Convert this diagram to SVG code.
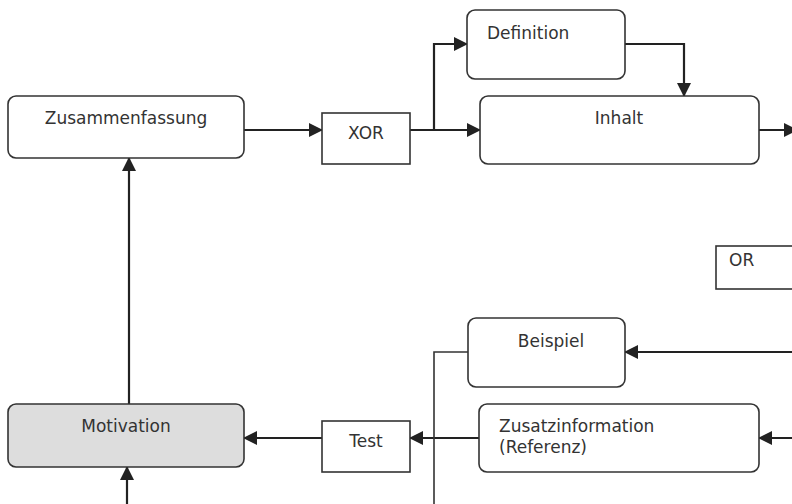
<svg xmlns="http://www.w3.org/2000/svg" width="792" height="504" viewBox="0 0 792 504">
<defs>
<marker id="ah" markerUnits="userSpaceOnUse" markerWidth="14" markerHeight="14" viewBox="0 0 14 14" refX="13" refY="7" orient="auto">
<path d="M0,0 L14,7 L0,14 Z" fill="#222"/>
</marker>
</defs>
<style>
.box{fill:#fff;stroke:#333;stroke-width:1.6}
.gray{fill:#dddddd}
.t{font-family:"DejaVu Sans",Verdana,sans-serif;font-size:17px;fill:#333}
.c{fill:none;stroke:#222;stroke-width:2.2}
.thin{fill:none;stroke:#333;stroke-width:1.6}
</style>
<rect width="792" height="504" fill="#fff"/>
<g id="connectors">
<path class="c" d="M244,130 H322" marker-end="url(#ah)"/>
<path class="c" d="M410,130 H480" marker-end="url(#ah)"/>
<path class="c" d="M434,130 V44 H467" marker-end="url(#ah)"/>
<path class="c" d="M625,44 H684 V96" marker-end="url(#ah)"/>
<path class="c" d="M759,130 H797" marker-end="url(#ah)"/>
<path class="c" d="M792,352 H625" marker-end="url(#ah)"/>
<path class="c" d="M792,438 H759" marker-end="url(#ah)"/>
<path class="c" d="M479,438 H410" marker-end="url(#ah)"/>
<path class="c" d="M322,438 H244" marker-end="url(#ah)"/>
<path class="thin" d="M468,352 H434 V504"/>
<path class="c" d="M129,404 V158" marker-end="url(#ah)"/>
<path class="c" d="M127,504 V467" marker-end="url(#ah)"/>
</g>
<g id="zusammenfassung">
<rect class="box" x="8" y="96" width="236" height="62" rx="8"/>
<text class="t" x="126" y="124" text-anchor="middle">Zusammenfassung</text>
</g>
<g id="xor">
<rect class="box" x="322" y="113" width="88" height="51"/>
<text class="t" x="366" y="139" text-anchor="middle">XOR</text>
</g>
<g id="definition">
<rect class="box" x="467" y="10" width="158" height="69" rx="8"/>
<text class="t" x="487" y="39">Definition</text>
</g>
<g id="inhalt">
<rect class="box" x="480" y="96" width="279" height="68" rx="8"/>
<text class="t" x="619" y="124" text-anchor="middle">Inhalt</text>
</g>
<g id="or">
<rect class="box" x="716" y="246" width="90" height="43"/>
<text class="t" x="729" y="266">OR</text>
</g>
<g id="beispiel">
<rect class="box" x="468" y="318" width="157" height="69" rx="8"/>
<text class="t" x="551" y="347" text-anchor="middle">Beispiel</text>
</g>
<g id="zusatzinformation">
<rect class="box" x="479" y="404" width="280" height="68" rx="8"/>
<text class="t" x="499" y="432">Zusatzinformation</text>
<text class="t" x="499" y="453">(Referenz)</text>
</g>
<g id="test">
<rect class="box" x="322" y="421" width="88" height="51"/>
<text class="t" x="366" y="447" text-anchor="middle">Test</text>
</g>
<g id="motivation">
<rect class="box gray" x="8" y="404" width="236" height="63" rx="8"/>
<text class="t" x="126" y="432" text-anchor="middle">Motivation</text>
</g>
</svg>
